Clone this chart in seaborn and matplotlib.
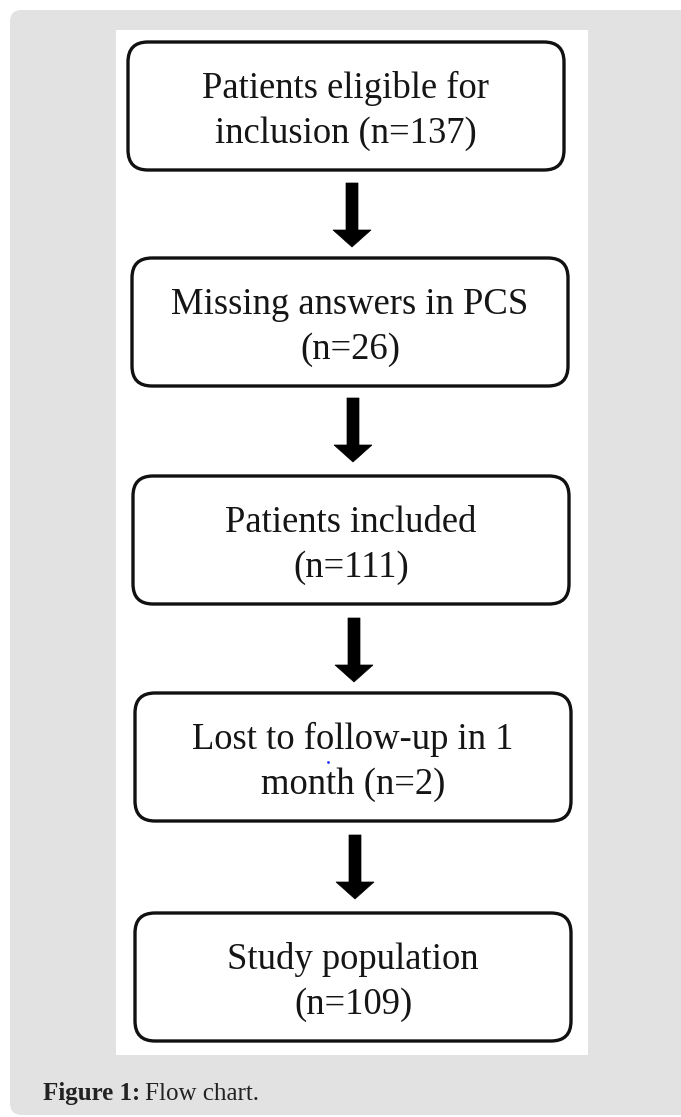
import numpy as np
import pandas as pd
import matplotlib
matplotlib.use('Agg')
import matplotlib.pyplot as plt
from matplotlib.patches import FancyBboxPatch, FancyArrow
import seaborn as sns

# flow chart content
first_lines = ['Patients eligible for', 'Missing answers in PCS', 'Patients included',
               'Lost to follow-up in 1', 'Study population']
second_prefix = ['inclusion ', '', '', 'month ', '']
counts = [137, 26, 111, 2, 109]

steps = pd.DataFrame({'line1': first_lines, 'prefix': second_prefix, 'n': counts})
steps['line2'] = steps['prefix'] + '(n=' + steps['n'].astype(str) + ')'

sns.set_style('white')
plt.rcParams['font.family'] = ['Liberation Serif', 'DejaVu Serif']

W, H = 681, 1117
fig = plt.figure(figsize=(W / 100, H / 100), dpi=100)
ax = fig.add_axes([0, 0, 1, 1])
ax.set_xlim(0, W)
ax.set_ylim(H, 0)
ax.axis('off')

# grey panel and white picture area
ax.add_patch(FancyBboxPatch((10, 10), W + 20, 1105, boxstyle='round,pad=0,rounding_size=12',
                            fc='#e2e2e2', ec='none'))
ax.add_patch(plt.Rectangle((116, 30), 472, 1025, fc='white', ec='none'))

# layout of boxes (pixels)
box_top = [42, 258, 476, 693, 913]
box_left = [128, 132, 133, 135, 135]
box_w, box_h = 436, 128
arrow_top = [183, 398, 618, 835]

for i, row in steps.iterrows():
    x0, y0 = box_left[i], box_top[i]
    ax.add_patch(FancyBboxPatch((x0, y0), box_w, box_h,
                                boxstyle='round,pad=0,rounding_size=20',
                                fc='white', ec='#111111', lw=2.4))
    cx = x0 + box_w / 2
    ax.text(cx, y0 + 56, row['line1'], ha='center', va='baseline', fontsize=26.4, color='#151515')
    ax.text(cx, y0 + 101, row['line2'], ha='center', va='baseline', fontsize=26.4, color='#151515')

for i, y in enumerate(arrow_top):
    ax.add_patch(FancyArrow(352 + i, y, 0, 64, width=12, head_width=38, head_length=17,
                            length_includes_head=True, fc='black', ec='black', lw=0.5))

# stray blue dot in the original scan
ax.plot([328], [762], marker='o', ms=2, color='#2030ff', mec='none')

# caption: bold label followed by plain text
lab = ax.text(43, 1100, 'Figure 1:', fontsize=18, fontweight='bold', color='#222222', va='baseline')
ax.annotate('Flow chart.', xy=(1, 0), xycoords=lab, xytext=(5, 0), textcoords='offset pixels',
            ha='left', va='bottom', fontsize=18, color='#222222')

fig.savefig('out.png', dpi=100, facecolor='white')
